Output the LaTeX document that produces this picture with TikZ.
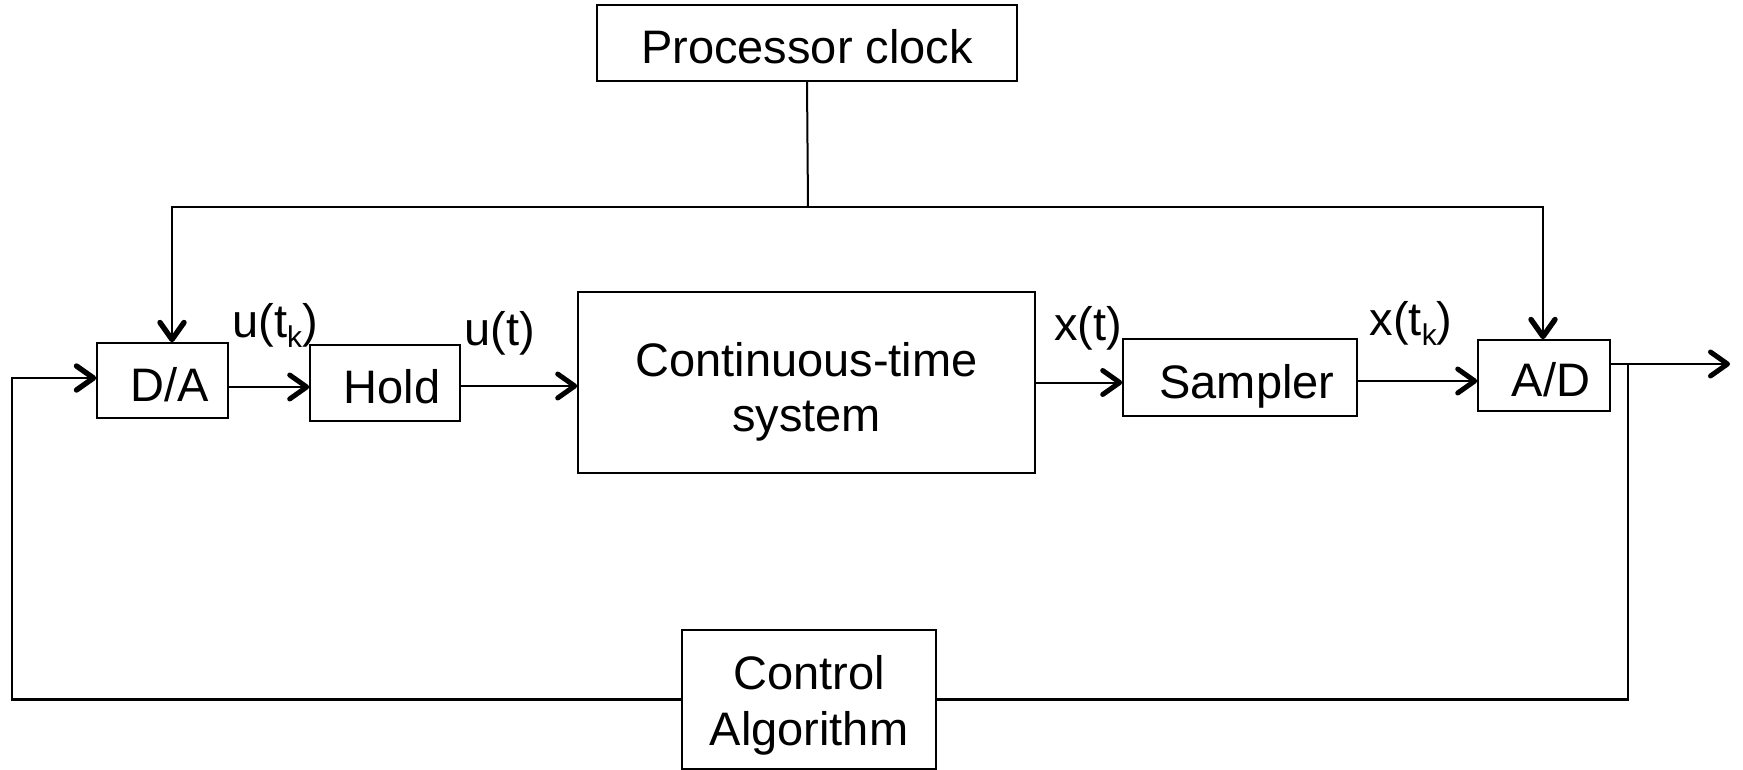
\documentclass[tikz,border=0pt]{standalone}
\usepackage{fontspec}
\setmainfont{Liberation Sans}
\usetikzlibrary{arrows.meta,calc}

% two centred lines with baseline distance #2, dropped by #1 without changing the box size
\newcommand\twolines[3]{%
  \raisebox{-#1}[\height][\depth]{\vbox{\baselineskip=#2
    \lineskiplimit=-100pt\lineskip=0pt
    \halign{\hfil##\hfil\cr#3\crcr}}}}
% lowered small subscript k
\newcommand\subk{\raisebox{-10pt}{\fontsize{30}{30}\selectfont k}}

\begin{document}
\begin{tikzpicture}[x=1pt,y=-1pt,
  every node/.style={font=\fontsize{47}{56}\selectfont},
  box/.style={draw, line width=1.6pt, inner sep=0pt},
  onerow/.style={text height=41pt, text depth=0pt},
  padl/.style={onerow, execute at begin node={\hspace*{14pt}}},
  wire/.style={line width=2pt},
  barb/.tip={Straight Barb[length=17pt,width=24pt,line width=3pt 1,round]},
  arr/.style={wire,-barb},
  arrboth/.style={barb-barb},
  sig/.style={anchor=base, inner sep=0pt}]

\fill[white] (0,0) rectangle (1743,770);
\useasboundingbox (0,0) rectangle (1743,770);

% blocks
\node[box, onerow, minimum width=420pt, minimum height=76pt] (clk) at (807,43) {Processor clock};
\node[box, padl, minimum width=131pt, minimum height=75pt] (da) at (162.5,380.5) {D/A};
\node[box, padl, minimum width=150pt, minimum height=76pt] (hold) at (385,383) {Hold};
\node[box, minimum width=457pt, minimum height=181pt] (ct) at (806.5,382.5) {\twolines{9pt}{55pt}{Continuous-time\cr system}};
\node[box, padl, minimum width=234pt, minimum height=77pt] (smp) at (1240,377.5) {Sampler};
\node[box, padl, minimum width=132pt, minimum height=71pt] (ad) at (1544,375.5) {A/D};
\node[box, minimum width=254pt, minimum height=139pt] (ca) at (809,699.5) {\twolines{6pt}{56pt}{Control\cr Algorithm}};

% signal labels
\node[sig] (lutk) at (275,337) {u(t\subk)};
\node[sig] (lut) at (500,345) {u(t)};
\node[sig] (lxt) at (1088,340) {x(t)};
\node[sig] (lxtk) at (1411,335) {x(t\subk)};

% clock distribution
\coordinate (tl) at (172,207);
\coordinate (tr) at (1543,207);
\coordinate (tj) at (808,207);
\draw[wire] (clk.south) -- (tj);
\draw[wire, line width=2.4pt, arrboth] (tl |- da.north) -- (tl) -- (tr) -- (tr |- ad.north);

% forward path
\draw[arr] ([yshift=-6.5pt]da.east) -- ([yshift=-6.5pt]da.east -| hold.west);
\draw[arr] ([yshift=-3pt]hold.east) -- ([yshift=-3pt]hold.east -| ct.west);
\draw[arr] (ct.east) -- (ct.east -| smp.west);
\draw[arr] ([yshift=-3.5pt]smp.east) -- ([yshift=-3.5pt]smp.east -| ad.west);

% output and feedback loop
\coordinate (fbl) at (12,378);
\coordinate (fbr) at (1628,364);
\coordinate (out) at (1730,364);
\draw[arr] (ad.east |- out) -- (out);
\draw[wire, line width=2.4pt] (ca.east) -| (fbr);
\draw[arr, line width=2.4pt] (ca.west) -| (fbl) -- (fbl -| da.west);
\end{tikzpicture}
\end{document}
